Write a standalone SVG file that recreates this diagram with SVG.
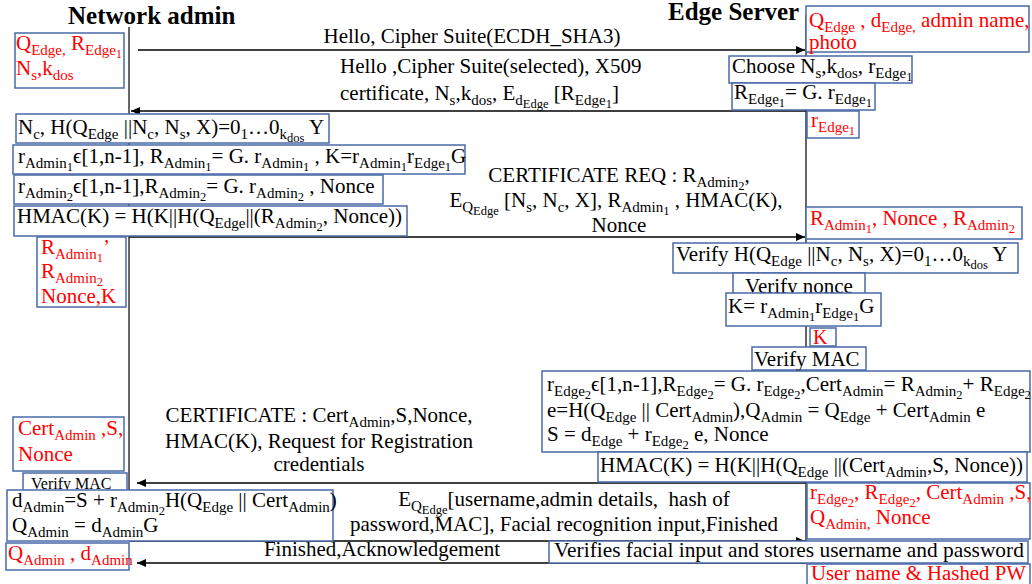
<svg xmlns="http://www.w3.org/2000/svg" width="1032" height="584" viewBox="0 0 1032 584">
<style>
text{font-family:"Liberation Serif","Times New Roman",serif;font-size:21px;fill:#000}
.r{fill:#f00}
.h{font-weight:bold;font-size:25px}
.s{font-size:15px}
.ss{font-size:12.5px}
.m{text-anchor:middle}
.box{fill:#fff;stroke:#4a6aa8;stroke-width:1.5}
.life{stroke:#333;stroke-width:1.5;fill:none}
.arr{stroke:#000;stroke-width:1.3;fill:none;marker-end:url(#ah)}
</style>
<defs>
<marker id="ah" markerWidth="9" markerHeight="8" refX="9" refY="4" orient="auto" markerUnits="userSpaceOnUse">
<path d="M0,0 L9,4 L0,8 z" fill="#000"/>
</marker>
</defs>
<rect width="1032" height="584" fill="#fff"/>
<g id="lifelines">
<path class="life" d="M129,27 V541"/>
<path class="life" d="M806,15 V563"/>
</g>
<text class="h" x="68" y="24">Network admin</text>
<text class="h" x="668" y="20">Edge Server</text>
<g id="connectors">
<path class="arr" d="M138,50 H805"/>
<path class="arr" d="M806,111 H131"/>
<path class="arr" d="M129,237 H805"/>
<path class="arr" d="M806,483 H137"/>
<path class="arr" d="M129,541 H805"/>
<path class="arr" d="M806,563 H137"/>
<text class="m" x="472" y="43">Hello, Cipher Suite(ECDH_SHA3)</text>
<text x="340" y="73">Hello ,Cipher Suite(selected), X509</text>
<text x="340" y="100">certificate, N<tspan class="s" dy="5">s</tspan><tspan dy="-5">,k</tspan><tspan class="s" dy="5">dos</tspan><tspan dy="-5">, E</tspan><tspan class="s" dy="5">d</tspan><tspan class="ss" dy="3">Edge</tspan><tspan dy="-8"> [R</tspan><tspan class="s" dy="5">Edge</tspan><tspan class="ss" dy="3">1</tspan><tspan dy="-8">]</tspan></text>
<text class="m" x="619" y="182">CERTIFICATE REQ : R<tspan class="s" dy="5">Admin</tspan><tspan class="ss" dy="3">2</tspan><tspan dy="-8">,</tspan></text>
<text class="m" x="616" y="207">E<tspan class="s" dy="5">Q</tspan><tspan class="ss" dy="3">Edge</tspan><tspan dy="-8"> [N</tspan><tspan class="s" dy="5">s</tspan><tspan dy="-5">, N</tspan><tspan class="s" dy="5">c</tspan><tspan dy="-5">, X], R</tspan><tspan class="s" dy="5">Admin</tspan><tspan class="ss" dy="3">1</tspan><tspan dy="-8"> , HMAC(K),</tspan></text>
<text class="m" x="619" y="232">Nonce</text>
<text class="m" x="319" y="422">CERTIFICATE : Cert<tspan class="s" dy="5">Admin</tspan><tspan dy="-5">,S,Nonce,</tspan></text>
<text class="m" x="319" y="448">HMAC(K), Request for Registration</text>
<text class="m" x="319" y="471">credentials</text>
<text class="m" x="564" y="506">E<tspan class="s" dy="5">Q</tspan><tspan class="ss" dy="3">Edge</tspan><tspan dy="-8">[username,admin details, &#160;hash of</tspan></text>
<text class="m" x="564" y="531">password,MAC], Facial recognition input,Finished</text>
<text class="m" x="382" y="556">Finished,Acknowledgement</text>
</g>
<g id="n-admin-keys">
<rect class="box" x="15" y="33" width="109" height="55"/>
<text class="r" x="16" y="50">Q<tspan class="s" dy="5">Edge,</tspan><tspan dy="-5"> R</tspan><tspan class="s" dy="5">Edge</tspan><tspan class="ss" dy="3">1</tspan></text>
<text class="r" x="16" y="75">N<tspan class="s" dy="5">s</tspan><tspan dy="-5">,k</tspan><tspan class="s" dy="5">dos</tspan></text>
</g>
<g id="n-edge-keys">
<rect class="box" x="806" y="6" width="223" height="46"/>
<text class="r" x="809" y="27">Q<tspan class="s" dy="5">Edge</tspan><tspan dy="-5"> , d</tspan><tspan class="s" dy="5">Edge,</tspan><tspan dy="-5"> admin name,</tspan></text>
<text class="r" x="809" y="49">photo</text>
</g>
<g id="n-choose">
<rect class="box" x="729" y="56" width="183" height="27"/>
<text x="732" y="73">Choose N<tspan class="s" dy="5">s</tspan><tspan dy="-5">,k</tspan><tspan class="s" dy="5">dos</tspan><tspan dy="-5">, r</tspan><tspan class="s" dy="5">Edge</tspan><tspan class="ss" dy="3">1</tspan></text>
</g>
<g id="n-redge1">
<rect class="box" x="732" y="83" width="143" height="27"/>
<text x="734" y="99">R<tspan class="s" dy="5">Edge</tspan><tspan class="ss" dy="3">1</tspan><tspan dy="-8">= G. r</tspan><tspan class="s" dy="5">Edge</tspan><tspan class="ss" dy="3">1</tspan></text>
</g>
<g id="n-redge1-store">
<rect class="box" x="807" y="111" width="52" height="27"/>
<text class="r" x="811" y="127">r<tspan class="s" dy="5">Edge</tspan><tspan class="ss" dy="3">1</tspan></text>
</g>
<g id="n-pow">
<rect class="box" x="16" y="114" width="313" height="29"/>
<text x="18" y="134">N<tspan class="s" dy="5">c</tspan><tspan dy="-5">, H(Q</tspan><tspan class="s" dy="5">Edge</tspan><tspan dy="-5"> ||N</tspan><tspan class="s" dy="5">c</tspan><tspan dy="-5">, N</tspan><tspan class="s" dy="5">s</tspan><tspan dy="-5">, X)=0</tspan><tspan class="s" dy="5">1</tspan><tspan dy="-5">…0</tspan><tspan class="s" dy="5">k</tspan><tspan class="ss" dy="3">dos</tspan><tspan dy="-8"> Y</tspan></text>
</g>
<g id="n-radmin1">
<rect class="box" x="13" y="145" width="452" height="29"/>
<text x="18" y="163">r<tspan class="s" dy="5">Admin</tspan><tspan class="ss" dy="3">1</tspan><tspan dy="-8">ϵ[1,n-1], R</tspan><tspan class="s" dy="5">Admin</tspan><tspan class="ss" dy="3">1</tspan><tspan dy="-8">= G. r</tspan><tspan class="s" dy="5">Admin</tspan><tspan class="ss" dy="3">1</tspan><tspan dy="-8"> , K=r</tspan><tspan class="s" dy="5">Admin</tspan><tspan class="ss" dy="3">1</tspan><tspan dy="-8">r</tspan><tspan class="s" dy="5">Edge</tspan><tspan class="ss" dy="3">1</tspan><tspan dy="-8">G</tspan></text>
</g>
<g id="n-radmin2">
<rect class="box" x="14" y="175" width="369" height="29"/>
<text x="18" y="193">r<tspan class="s" dy="5">Admin</tspan><tspan class="ss" dy="3">2</tspan><tspan dy="-8">ϵ[1,n-1],R</tspan><tspan class="s" dy="5">Admin</tspan><tspan class="ss" dy="3">2</tspan><tspan dy="-8">= G. r</tspan><tspan class="s" dy="5">Admin</tspan><tspan class="ss" dy="3">2</tspan><tspan dy="-8"> , Nonce</tspan></text>
</g>
<g id="n-hmac1">
<rect class="box" x="14" y="206" width="393" height="30"/>
<text x="17" y="223">HMAC(K) = H(K||H(Q<tspan class="s" dy="5">Edge</tspan><tspan dy="-5">||(R</tspan><tspan class="s" dy="5">Admin</tspan><tspan class="ss" dy="3">2</tspan><tspan dy="-8">, Nonce))</tspan></text>
</g>
<g id="n-admin-store1">
<rect class="box" x="37" y="237" width="89" height="70"/>
<text class="r" x="41" y="254">R<tspan class="s" dy="5">Admin</tspan><tspan class="ss" dy="3">1</tspan><tspan dy="-8">’</tspan></text>
<text class="r" x="41" y="278">R<tspan class="s" dy="5">Admin</tspan><tspan class="ss" dy="3">2</tspan></text>
<text class="r" x="41" y="303">Nonce,K</text>
</g>
<g id="n-edge-store1">
<rect class="box" x="806" y="207" width="216" height="32"/>
<text class="r" x="810" y="225">R<tspan class="s" dy="5">Admin</tspan><tspan class="ss" dy="3">1</tspan><tspan dy="-8">, Nonce , R</tspan><tspan class="s" dy="5">Admin</tspan><tspan class="ss" dy="3">2</tspan></text>
</g>
<g id="n-verify-pow">
<rect class="box" x="673" y="243" width="345" height="30"/>
<text x="676" y="261">Verify H(Q<tspan class="s" dy="5">Edge</tspan><tspan dy="-5"> ||N</tspan><tspan class="s" dy="5">c</tspan><tspan dy="-5">, N</tspan><tspan class="s" dy="5">s</tspan><tspan dy="-5">, X)=0</tspan><tspan class="s" dy="5">1</tspan><tspan dy="-5">…0</tspan><tspan class="s" dy="5">k</tspan><tspan class="ss" dy="3">dos</tspan><tspan dy="-8"> Y</tspan></text>
</g>
<g id="n-verify-nonce">
<rect class="box" x="733" y="273" width="132" height="21"/>
<text class="m" x="799" y="293">Verify nonce</text>
</g>
<g id="n-k-edge">
<rect class="box" x="726" y="293" width="155" height="33"/>
<text x="728" y="313">K= r<tspan class="s" dy="5">Admin</tspan><tspan class="ss" dy="3">1</tspan><tspan dy="-8">r</tspan><tspan class="s" dy="5">Edge</tspan><tspan class="ss" dy="3">1</tspan><tspan dy="-8">G</tspan></text>
</g>
<g id="n-k-store">
<rect class="box" x="810" y="328" width="26" height="18"/>
<text class="r" x="813" y="344" style="font-size:20px">K</text>
</g>
<g id="n-verify-mac-edge">
<rect class="box" x="752" y="347" width="114" height="23"/>
<text x="754" y="366">Verify MAC</text>
</g>
<g id="n-cert-gen">
<rect class="box" x="542" y="371" width="488" height="81"/>
<text x="547" y="391">r<tspan class="s" dy="5">Edge</tspan><tspan class="ss" dy="3">2</tspan><tspan dy="-8">ϵ[1,n-1],R</tspan><tspan class="s" dy="5">Edge</tspan><tspan class="ss" dy="3">2</tspan><tspan dy="-8">= G. r</tspan><tspan class="s" dy="5">Edge</tspan><tspan class="ss" dy="3">2</tspan><tspan dy="-8">,Cert</tspan><tspan class="s" dy="5">Admin</tspan><tspan dy="-5">= R</tspan><tspan class="s" dy="5">Admin</tspan><tspan class="ss" dy="3">2</tspan><tspan dy="-8">+ R</tspan><tspan class="s" dy="5">Edge</tspan><tspan class="ss" dy="3">2</tspan></text>
<text x="547" y="417">e=H(Q<tspan class="s" dy="5">Edge</tspan><tspan dy="-5"> || Cert</tspan><tspan class="s" dy="5">Admin</tspan><tspan dy="-5">),Q</tspan><tspan class="s" dy="5">Admin</tspan><tspan dy="-5"> = Q</tspan><tspan class="s" dy="5">Edge</tspan><tspan dy="-5"> + Cert</tspan><tspan class="s" dy="5">Admin</tspan><tspan dy="-5"> e</tspan></text>
<text x="547" y="441">S = d<tspan class="s" dy="5">Edge</tspan><tspan dy="-5"> + r</tspan><tspan class="s" dy="5">Edge</tspan><tspan class="ss" dy="3">2</tspan><tspan dy="-8"> e, Nonce</tspan></text>
</g>
<g id="n-hmac2">
<rect class="box" x="598" y="452" width="429" height="30"/>
<text x="600" y="472">HMAC(K) = H(K||H(Q<tspan class="s" dy="5">Edge</tspan><tspan dy="-5"> ||(Cert</tspan><tspan class="s" dy="5">Admin</tspan><tspan dy="-5">,S, Nonce))</tspan></text>
</g>
<g id="n-admin-store2">
<rect class="box" x="13" y="417" width="111" height="54"/>
<text class="r" x="18" y="435">Cert<tspan class="s" dy="5">Admin</tspan><tspan dy="-5"> ,S,</tspan></text>
<text class="r" x="18" y="461">Nonce</text>
</g>
<g id="n-verify-mac-admin">
<rect class="box" x="23" y="473" width="104" height="18"/>
<text x="31" y="489" style="font-size:16px">Verify MAC</text>
</g>
<g id="n-dadmin">
<rect class="box" x="7" y="490" width="326" height="51"/>
<text x="12" y="507">d<tspan class="s" dy="5">Admin</tspan><tspan dy="-5">=S + r</tspan><tspan class="s" dy="5">Admin</tspan><tspan class="ss" dy="3">2</tspan><tspan dy="-8">H(Q</tspan><tspan class="s" dy="5">Edge</tspan><tspan dy="-5"> || Cert</tspan><tspan class="s" dy="5">Admin</tspan><tspan dy="-5">)</tspan></text>
<text x="12" y="532">Q<tspan class="s" dy="5">Admin</tspan><tspan dy="-5"> = d</tspan><tspan class="s" dy="5">Admin</tspan><tspan dy="-5">G</tspan></text>
</g>
<g id="n-admin-store3">
<rect class="box" x="6" y="543" width="123" height="27"/>
<text class="r" x="8" y="560">Q<tspan class="s" dy="5">Admin</tspan><tspan dy="-5"> , d</tspan><tspan class="s" dy="5">Admin</tspan></text>
</g>
<g id="n-edge-store2">
<rect class="box" x="807" y="483" width="223" height="56"/>
<text class="r" x="810" y="499">r<tspan class="s" dy="5">Edge</tspan><tspan class="ss" dy="3">2</tspan><tspan dy="-8">, R</tspan><tspan class="s" dy="5">Edge</tspan><tspan class="ss" dy="3">2</tspan><tspan dy="-8">, Cert</tspan><tspan class="s" dy="5">Admin</tspan><tspan dy="-5"> ,S,</tspan></text>
<text class="r" x="810" y="524">Q<tspan class="s" dy="5">Admin,</tspan><tspan dy="-5"> Nonce</tspan></text>
</g>
<g id="n-verify-face">
<rect class="box" x="549" y="541" width="479" height="22"/>
<text x="554" y="557" style="font-size:21.4px">Verifies facial input and stores username and password</text>
</g>
<g id="n-edge-store3">
<rect class="box" x="807" y="564" width="223" height="22"/>
<text class="r" x="811" y="580" style="font-size:20.8px">User name &amp; Hashed PW</text>
</g>
</svg>
